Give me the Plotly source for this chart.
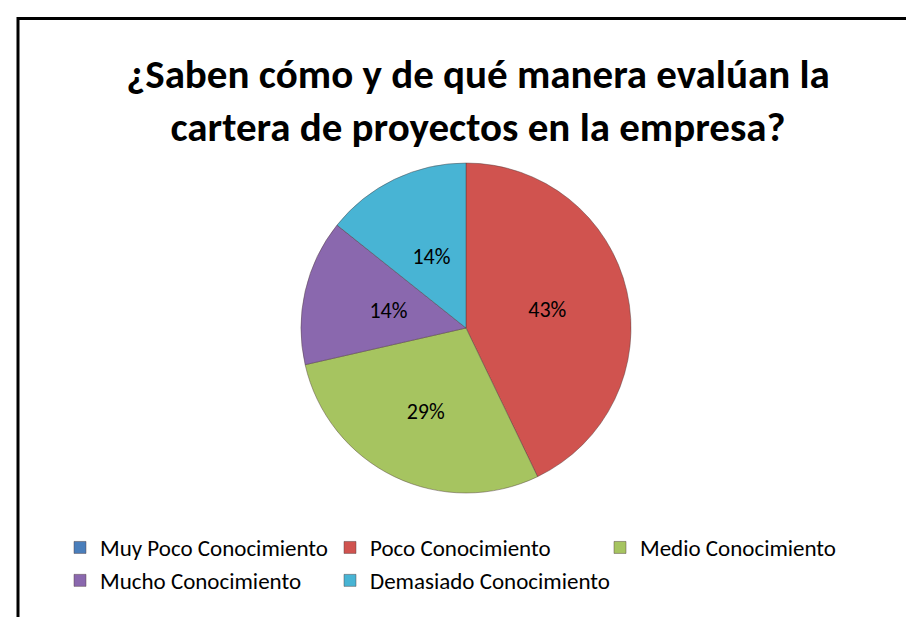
import plotly.graph_objects as go

categories = ["Muy Poco Conocimiento", "Poco Conocimiento", "Medio Conocimiento",
              "Mucho Conocimiento", "Demasiado Conocimiento"]
values = [0, 3, 2, 1, 1]
colors = ["#4A7EBB", "#D0534F", "#A6C460", "#8A68AE", "#48B4D4"]
title_text = "¿Saben cómo y de qué manera evalúan la<br>cartera de proyectos en la empresa?"

total = sum(values)
pct_text = [f"{round(v / total * 100)}%" if v > 0 else "" for v in values]
# big slices keep their label on the main pie; small ones are labelled closer to the centre
main_text = [t if v / total >= 0.2 else "" for t, v in zip(pct_text, values)]
inner_text = [t if 0 < v / total < 0.2 else "" for t, v in zip(pct_text, values)]

W, H = 914, 617
cx, cy, r = 458, 320, 165
k = 0.69
label_font = dict(family="Carlito, Lato, sans-serif", size=22, color="#000000")

fig = go.Figure()
fig.add_trace(go.Pie(
    labels=categories,
    values=values,
    text=main_text,
    textinfo="text",
    textposition="inside",
    insidetextorientation="horizontal",
    sort=False,
    direction="clockwise",
    rotation=0,
    marker=dict(colors=colors, line=dict(color="rgba(80,60,60,0.45)", width=1)),
    textfont=label_font,
    domain=dict(x=[(cx - r) / W, (cx + r) / W], y=[(H - cy - r) / H, (H - cy + r) / H]),
    hoverinfo="label+percent",
))
fig.add_trace(go.Pie(
    labels=categories,
    values=values,
    text=inner_text,
    textinfo="text",
    textposition="inside",
    insidetextorientation="horizontal",
    sort=False,
    direction="clockwise",
    rotation=0,
    showlegend=False,
    marker=dict(colors=["rgba(0,0,0,0)"] * len(values), line=dict(width=0)),
    textfont=label_font,
    domain=dict(x=[(cx - k * r) / W, (cx + k * r) / W],
                y=[(H - cy - k * r) / H, (H - cy + k * r) / H]),
    hoverinfo="skip",
))

fig.update_layout(
    width=W, height=H,
    margin=dict(l=0, r=0, t=0, b=0),
    paper_bgcolor="white",
    plot_bgcolor="white",
    title=dict(
        text="<b>" + title_text + "</b>",
        x=470 / W, xanchor="center",
        y=1 - 80 / H, yanchor="top",
        font=dict(family="Carlito, Lato, sans-serif", size=41, color="#000000"),
    ),
    showlegend=True,
    legend=dict(
        orientation="h",
        x=52 / W, xanchor="left",
        y=1 - 518 / H, yanchor="top",
        entrywidth=225, entrywidthmode="pixels",
        font=dict(family="Carlito, Lato, sans-serif", size=23, color="#000000"),
        bgcolor="rgba(0,0,0,0)",
        traceorder="normal",
    ),
    shapes=[
        dict(type="line", xref="paper", yref="paper",
             x0=10 / W, x1=1.0, y0=1 - 10.5 / H, y1=1 - 10.5 / H,
             line=dict(color="black", width=3)),
        dict(type="line", xref="paper", yref="paper",
             x0=10 / W, x1=10 / W, y0=1 - 9 / H, y1=0,
             line=dict(color="black", width=3)),
    ],
)

fig.write_html("out.html")
